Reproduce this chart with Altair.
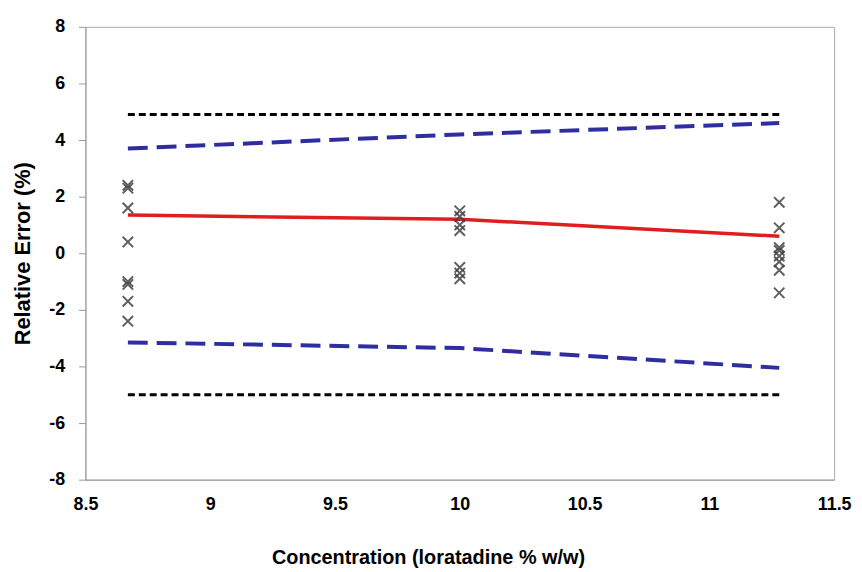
import altair as alt
import pandas as pd

# Concentration levels
conc_levels = [8.67, 10.0, 11.28]

# Relative error observations (x-marks)
pts_x = [8.67]*8 + [10.0]*7 + [11.28]*8
pts_y = [2.4, 2.3, 1.6, 0.4, -1.0, -1.1, -1.7, -2.4,
         1.5, 1.3, 1.0, 0.8, -0.5, -0.7, -0.9,
         1.8, 0.9, 0.2, 0.1, -0.1, -0.3, -0.6, -1.4]

# Mean bias line (red)
bias = [1.35, 1.2, 0.6]
# Tolerance interval limits (blue dashed)
upper_tol = [3.7, 4.2, 4.6]
lower_tol = [-3.15, -3.35, -4.05]
# Acceptance limits (black dotted)
accept_x = [8.67, 11.28]
accept_upper = [4.9, 4.9]
accept_lower = [-5.0, -5.0]

xticks = [8.5, 9, 9.5, 10, 10.5, 11, 11.5]
yticks = [-8, -6, -4, -2, 0, 2, 4, 6, 8]

pts = pd.DataFrame({"x": pts_x, "y": pts_y})
lines = pd.DataFrame({"x": conc_levels, "bias": bias, "up": upper_tol, "lo": lower_tol})
acc = pd.DataFrame({"x": accept_x, "up": accept_upper, "lo": accept_lower})

xs = alt.Scale(domain=[8.5, 11.5], nice=False, zero=False)
ys = alt.Scale(domain=[-8, 8], nice=False)

xax = alt.Axis(values=xticks, title="Concentration (loratadine % w/w)", ticks=False,
               labelPadding=16, grid=False, labelFlush=False,
               labelExpr="toString(datum.value)",
               titleX=345, titleY=84, titleBaseline="alphabetic",
               labelFontSize=18, labelFontWeight="bold", titleFontSize=20, titleFontWeight="bold",
               labelFont="Liberation Sans", titleFont="Liberation Sans",
               domainColor="#999999", labelColor="black", titleColor="black")
yax = alt.Axis(values=yticks, title="Relative Error (%)", tickSize=7, labelPadding=14,
               titlePadding=14, grid=False, labelExpr="toString(datum.value)",
               labelFontSize=18, labelFontWeight="bold", titleFontSize=22, titleFontWeight="bold",
               labelFont="Liberation Sans", titleFont="Liberation Sans",
               domainColor="#999999", tickColor="#999999", labelColor="black", titleColor="black")

X = alt.X("x:Q", scale=xs, axis=xax)

acc_up = alt.Chart(acc).mark_line(color="black", strokeWidth=3, strokeDash=[7, 4]).encode(
    x=X, y=alt.Y("up:Q", scale=ys, axis=yax))
acc_lo = alt.Chart(acc).mark_line(color="black", strokeWidth=3, strokeDash=[7, 4]).encode(
    x=X, y=alt.Y("lo:Q", scale=ys, axis=yax))
tol_up = alt.Chart(lines).mark_line(color="#2e2ea0", strokeWidth=4, strokeDash=[20, 9]).encode(
    x=X, y=alt.Y("up:Q", scale=ys, axis=yax))
tol_lo = alt.Chart(lines).mark_line(color="#2e2ea0", strokeWidth=4, strokeDash=[20, 9]).encode(
    x=X, y=alt.Y("lo:Q", scale=ys, axis=yax))
bias_l = alt.Chart(lines).mark_line(color="#e01e1e", strokeWidth=3.5).encode(
    x=X, y=alt.Y("bias:Q", scale=ys, axis=yax))
marks = alt.Chart(pts).mark_point(shape="M-1,-1L1,1M-1,1L1,-1", size=110, filled=False,
                                  color="#444444", strokeWidth=2, opacity=0.85).encode(
    x=X, y=alt.Y("y:Q", scale=ys, axis=yax))

chart = alt.layer(acc_up, acc_lo, tol_up, tol_lo, bias_l, marks).properties(
    width=754, height=456,
    background="white",
    autosize=alt.AutoSizeParams(type="none"),
    padding={"left": 78, "top": 17, "right": 20, "bottom": 90},
).configure_view(stroke="#aaaaaa", strokeWidth=1)

chart.save("out.html", embed_options={"renderer": "svg", "actions": False})
